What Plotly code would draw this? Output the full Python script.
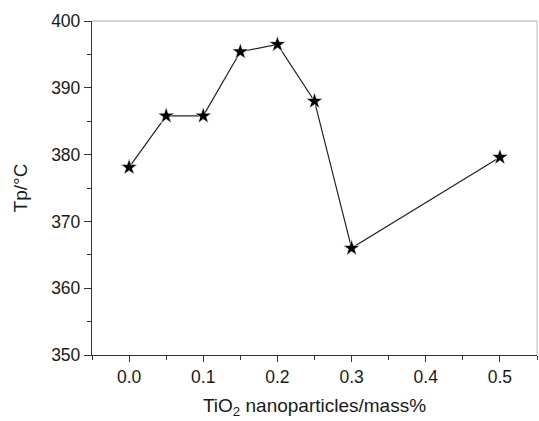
import plotly.graph_objects as go

# TiO2 loading (mass%) and peak temperature Tp (°C)
tio2_mass = [0.0, 0.05, 0.10, 0.15, 0.20, 0.25, 0.30, 0.50]
tp_celsius = [378.1, 385.8, 385.8, 395.4, 396.5, 388.0, 366.0, 379.6]

x_ticks = [0.0, 0.1, 0.2, 0.3, 0.4, 0.5]
x_tick_labels = ["0.0", "0.1", "0.2", "0.3", "0.4", "0.5"]
y_ticks = [350, 360, 370, 380, 390, 400]

font_family = "Liberation Sans, Arial, sans-serif"

fig = go.Figure()
fig.add_trace(go.Scatter(
    x=tio2_mass,
    y=tp_celsius,
    mode="lines+markers",
    line=dict(color="#222222", width=1.2),
    marker=dict(symbol="star", size=12.5, color="black",
                line=dict(color="white", width=0.6)),
    showlegend=False,
))

axis_common = dict(
    showline=True, linecolor="#333333", linewidth=1.3,
    ticks="outside", tickcolor="#333333", tickwidth=1.2,
    showgrid=False, zeroline=False,
    tickfont=dict(family=font_family, size=17.5, color="#1a1a1a"),
)

fig.update_xaxes(
    range=[-0.05, 0.55], tickvals=x_ticks, ticktext=x_tick_labels,
    ticklen=6,
    minor=dict(ticks="outside", dtick=0.05, tick0=0.0, ticklen=4,
               tickcolor="#333333", tickwidth=1.2),
    title=dict(text="TiO<sub>2</sub> nanoparticles/mass%",
               font=dict(family=font_family, size=19, color="#1a1a1a"),
               standoff=12),
    **axis_common,
)
fig.update_yaxes(
    range=[350, 400], tickvals=y_ticks,
    ticklen=7,
    minor=dict(ticks="outside", dtick=5, tick0=350, ticklen=4,
               tickcolor="#333333", tickwidth=1.2),
    title=dict(text="Tp/°C",
               font=dict(family=font_family, size=19, color="#1a1a1a"),
               standoff=18),
    **axis_common,
)

# light frame along the top and right of the plotting area
fig.add_shape(type="line", xref="paper", yref="paper",
              x0=0, x1=1, y0=1, y1=1, line=dict(color="#c8c8c8", width=1.3))
fig.add_shape(type="line", xref="paper", yref="paper",
              x0=1, x1=1, y0=0, y1=1, line=dict(color="#c8c8c8", width=1.3))

fig.update_layout(
    width=539, height=421,
    margin=dict(l=92, r=2, t=21, b=66),
    paper_bgcolor="white", plot_bgcolor="white",
)

fig.write_html("out.html")
